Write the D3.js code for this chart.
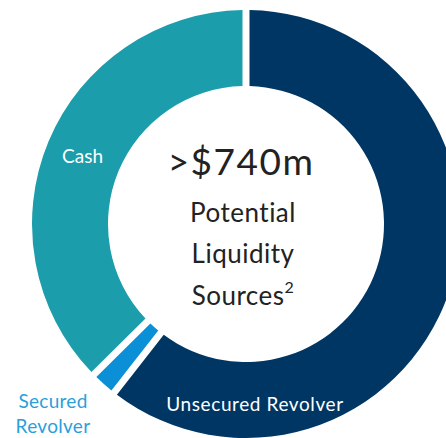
<!DOCTYPE html>
<html><head><meta charset="utf-8">
<script src="https://cdn.jsdelivr.net/npm/d3@7"></script>
<style>html,body{margin:0;padding:0;background:#fff;}svg{display:block;}</style>
</head><body>
<svg id="c" width="446" height="438"></svg>
<script>
const categories = ["Unsecured Revolver", "Secured Revolver", "Cash"];
const values = [450, 15, 278];
const colors = ["#003663", "#0b8fd6", "#1b9dab"];
const centerTitle = ">$740m";
const centerLines = ["Potential", "Liquidity", "Sources"];

const svg = d3.select("#c");
const cx = 246, cy = 224, R = 214, r = 138;
const g = svg.append("g").attr("transform", `translate(${cx},${cy})`);
const pie = d3.pie().sort(null).value(d => d);
const arcs = pie(values);
const arc = d3.arc().innerRadius(r).outerRadius(R).padAngle(7 / R).padRadius(R);
g.selectAll("path").data(arcs).join("path")
  .attr("d", arc).attr("fill", (d, i) => colors[i]);

const font = "Lato, 'Noto Sans', sans-serif";
const lab = d3.arc().innerRadius(r).outerRadius(R);
const cc = lab.centroid(arcs[2]);
g.append("text").attr("x", cc[0] - 1).attr("y", cc[1] + 7).attr("text-anchor", "middle")
  .attr("font-family", font).attr("font-size", 19).attr("fill", "#fff").text(categories[2]);
g.append("text").attr("x", 9).attr("y", 411 - cy).attr("text-anchor", "middle")
  .attr("font-family", font).attr("font-size", 19).attr("letter-spacing", 0.6).attr("fill", "#fff").text(categories[0]);
const sec = g.append("text").attr("text-anchor", "middle")
  .attr("font-family", font).attr("font-size", 19).attr("letter-spacing", 0.3).attr("fill", "#2b9fda");
const secWords = categories[1].split(" ");
sec.append("tspan").attr("x", 53 - cx).attr("y", 408 - cy).text(secWords[0]);
sec.append("tspan").attr("x", 53 - cx).attr("y", 433 - cy).text(secWords[1]);

g.append("text").attr("x", -5).attr("y", 175 - cy).attr("text-anchor", "middle")
  .attr("font-family", font).attr("font-size", 37).attr("letter-spacing", 1.5).attr("fill", "#222").text(centerTitle);
const ys = [222, 263, 305];
centerLines.forEach((t, i) => {
  const tx = g.append("text").attr("x", -3).attr("y", ys[i] - cy).attr("text-anchor", "middle")
    .attr("font-family", font).attr("font-size", 26).attr("letter-spacing", 0.5).attr("fill", "#222").text(t);
  if (i === 2) tx.append("tspan").attr("font-size", 16).attr("dy", -12).text("2");
});
</script>
</body></html>
